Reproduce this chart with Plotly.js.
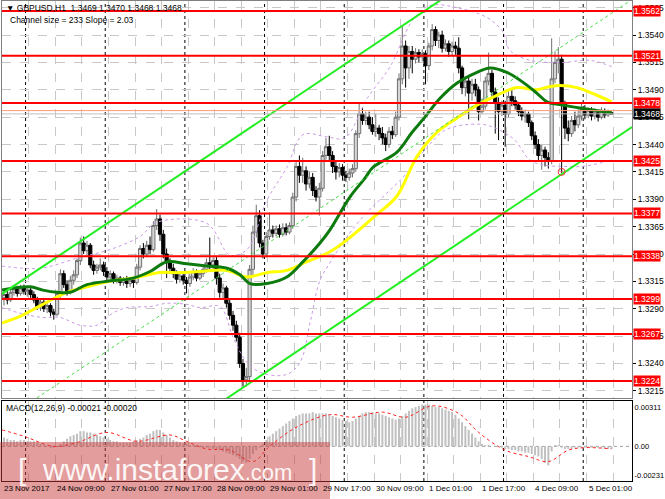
<!DOCTYPE html>
<html>
<head>
<meta charset="utf-8">
<script src="https://cdn.plot.ly/plotly-3.0.1.min.js"></script>
<style>html,body{margin:0;padding:0;background:#fff}#chart{width:665px;height:499px}</style>
</head>
<body>
<div id="chart"></div>
<script>
// GBPUSD H1, one bar per hour: bar 0 = 23 Nov 2017 17:00 ... bar 183 = 5 Dec 2017 08:00
var open = [
  1.3300,1.3303,1.3298,1.3305,1.3308,1.3304,1.3309,1.3306,1.3307,1.3303,
  1.3298,1.3292,1.3296,1.3290,1.3293,1.3287,1.3285,1.3304,1.3322,1.3312,
  1.3305,1.3316,1.3321,1.3334,1.3350,1.3343,1.3348,1.3330,1.3325,1.3328,
  1.3330,1.3324,1.3319,1.3322,1.3316,1.3318,1.3314,1.3317,1.3313,1.3316,
  1.3314,1.3328,1.3345,1.3340,1.3348,1.3344,1.3366,1.3372,1.3358,1.3340,
  1.3332,1.3327,1.3322,1.3317,1.3320,1.3316,1.3313,1.3319,1.3324,1.3318,
  1.3322,1.3326,1.3332,1.3330,1.3334,1.3318,1.3305,1.3309,1.3295,1.3284,
  1.3275,1.3264,1.3240,1.3225,1.3228,1.3326,1.3360,1.3375,1.3350,1.3340,
  1.3356,1.3362,1.3359,1.3363,1.3358,1.3364,1.3360,1.3366,1.3392,1.3420,
  1.3412,1.3416,1.3404,1.3410,1.3398,1.3392,1.3400,1.3430,1.3438,1.3430,
  1.3420,1.3415,1.3419,1.3412,1.3410,1.3414,1.3418,1.3450,1.3468,1.3462,
  1.3465,1.3458,1.3452,1.3455,1.3450,1.3446,1.3440,1.3452,1.3449,1.3465,
  1.3500,1.3530,1.3510,1.3525,1.3518,1.3524,1.3520,1.3523,1.3512,1.3530,
  1.3545,1.3535,1.3540,1.3528,1.3532,1.3525,1.3530,1.3528,1.3510,1.3492,
  1.3498,1.3487,1.3495,1.3490,1.3470,1.3475,1.3498,1.3505,1.3488,1.3478,
  1.3470,1.3476,1.3468,1.3484,1.3480,1.3476,1.3470,1.3466,1.3468,1.3460,
  1.3448,1.3440,1.3430,1.3435,1.3428,1.3425,1.3500,1.3515,1.3518,1.3478,
  1.3455,1.3450,1.3462,1.3458,1.3466,1.3472,1.3467,1.3471,1.3466,1.3469,
  1.3465,1.3470,1.3467,1.3469
]
var high = [
  1.3306,1.3307,1.3309,1.3311,1.3311,1.3312,1.3312,1.3310,1.3310,1.3306,
  1.3301,1.3299,1.3298,1.3296,1.3295,1.3290,1.3306,1.3326,1.3325,1.3316,
  1.3320,1.3325,1.3336,1.3355,1.3356,1.3352,1.3350,1.3334,1.3331,1.3336,
  1.3333,1.3328,1.3325,1.3324,1.3321,1.3320,1.3319,1.3320,1.3318,1.3319,
  1.3331,1.3348,1.3350,1.3352,1.3356,1.3370,1.3381,1.3376,1.3362,1.3345,
  1.3336,1.3331,1.3325,1.3323,1.3322,1.3319,1.3322,1.3327,1.3326,1.3325,
  1.3329,1.3336,1.3355,1.3337,1.3338,1.3322,1.3313,1.3311,1.3298,1.3288,
  1.3279,1.3268,1.3244,1.3236,1.3330,1.3366,1.3385,1.3380,1.3353,1.3360,
  1.3378,1.3366,1.3366,1.3367,1.3368,1.3368,1.3369,1.3396,1.3425,1.3430,
  1.3428,1.3420,1.3415,1.3414,1.3402,1.3405,1.3434,1.3446,1.3448,1.3434,
  1.3424,1.3423,1.3422,1.3416,1.3418,1.3422,1.3453,1.3477,1.3474,1.3470,
  1.3470,1.3465,1.3468,1.3458,1.3456,1.3450,1.3456,1.3457,1.3470,1.3505,
  1.3548,1.3535,1.3530,1.3530,1.3528,1.3527,1.3527,1.3526,1.3533,1.3550,
  1.3548,1.3543,1.3544,1.3536,1.3535,1.3534,1.3534,1.3538,1.3512,1.3502,
  1.3503,1.3500,1.3500,1.3493,1.3482,1.3502,1.3524,1.3508,1.3492,1.3483,
  1.3480,1.3480,1.3489,1.3490,1.3484,1.3479,1.3474,1.3472,1.3470,1.3462,
  1.3452,1.3445,1.3440,1.3438,1.3433,1.3537,1.3525,1.3529,1.3522,1.3480,
  1.3462,1.3466,1.3470,1.3472,1.3477,1.3476,1.3474,1.3474,1.3473,1.3471,
  1.3474,1.3473,1.3472,1.3470
]
var low = [
  1.3293,1.3294,1.3296,1.3302,1.3301,1.3302,1.3303,1.3301,1.3300,1.3295,
  1.3289,1.3288,1.3287,1.3286,1.3283,1.3280,1.3283,1.3300,1.3309,1.3302,
  1.3303,1.3312,1.3318,1.3330,1.3340,1.3338,1.3327,1.3321,1.3322,1.3325,
  1.3320,1.3316,1.3315,1.3313,1.3313,1.3311,1.3311,1.3309,1.3310,1.3309,
  1.3312,1.3325,1.3336,1.3337,1.3340,1.3342,1.3362,1.3352,1.3336,1.3318,
  1.3322,1.3318,1.3313,1.3314,1.3312,1.3304,1.3310,1.3316,1.3315,1.3316,
  1.3319,1.3323,1.3326,1.3326,1.3312,1.3300,1.3298,1.3291,1.3280,1.3270,
  1.3260,1.3236,1.3219,1.3219,1.3224,1.3320,1.3355,1.3346,1.3336,1.3337,
  1.3353,1.3355,1.3356,1.3355,1.3356,1.3357,1.3358,1.3363,1.3388,1.3405,
  1.3405,1.3398,1.3400,1.3393,1.3388,1.3375,1.3397,1.3426,1.3425,1.3414,
  1.3408,1.3410,1.3407,1.3406,1.3407,1.3410,1.3415,1.3446,1.3458,1.3458,
  1.3454,1.3449,1.3447,1.3444,1.3440,1.3434,1.3437,1.3445,1.3447,1.3462,
  1.3495,1.3492,1.3500,1.3505,1.3514,1.3515,1.3516,1.3495,1.3508,1.3526,
  1.3530,1.3528,1.3524,1.3525,1.3520,1.3521,1.3522,1.3505,1.3486,1.3484,
  1.3463,1.3480,1.3484,1.3462,1.3468,1.3472,1.3494,1.3483,1.3450,1.3444,
  1.3466,1.3438,1.3465,1.3475,1.3472,1.3466,1.3462,1.3460,1.3456,1.3444,
  1.3436,1.3425,1.3417,1.3420,1.3418,1.3422,1.3496,1.3505,1.3414,1.3445,
  1.3443,1.3447,1.3452,1.3455,1.3462,1.3463,1.3464,1.3462,1.3463,1.3461,
  1.3463,1.3464,1.3465,1.3468
]
var close = [
  1.3303,1.3298,1.3305,1.3308,1.3304,1.3309,1.3306,1.3307,1.3303,1.3298,
  1.3292,1.3296,1.3290,1.3293,1.3287,1.3285,1.3304,1.3322,1.3312,1.3305,
  1.3316,1.3321,1.3334,1.3350,1.3343,1.3348,1.3330,1.3325,1.3328,1.3330,
  1.3324,1.3319,1.3322,1.3316,1.3318,1.3314,1.3317,1.3313,1.3316,1.3314,
  1.3328,1.3345,1.3340,1.3348,1.3344,1.3366,1.3372,1.3358,1.3340,1.3332,
  1.3327,1.3322,1.3317,1.3320,1.3316,1.3313,1.3319,1.3324,1.3318,1.3322,
  1.3326,1.3332,1.3330,1.3334,1.3318,1.3305,1.3309,1.3295,1.3284,1.3275,
  1.3264,1.3240,1.3225,1.3228,1.3326,1.3360,1.3375,1.3350,1.3340,1.3356,
  1.3362,1.3359,1.3363,1.3358,1.3364,1.3360,1.3366,1.3392,1.3420,1.3412,
  1.3416,1.3404,1.3410,1.3398,1.3392,1.3400,1.3430,1.3438,1.3430,1.3420,
  1.3415,1.3419,1.3412,1.3410,1.3414,1.3418,1.3450,1.3468,1.3462,1.3465,
  1.3458,1.3452,1.3455,1.3450,1.3446,1.3440,1.3452,1.3449,1.3465,1.3500,
  1.3530,1.3510,1.3525,1.3518,1.3524,1.3520,1.3523,1.3512,1.3530,1.3545,
  1.3535,1.3540,1.3528,1.3532,1.3525,1.3530,1.3528,1.3510,1.3492,1.3498,
  1.3487,1.3495,1.3490,1.3470,1.3475,1.3498,1.3505,1.3488,1.3478,1.3470,
  1.3476,1.3468,1.3484,1.3480,1.3476,1.3470,1.3466,1.3468,1.3460,1.3448,
  1.3440,1.3430,1.3435,1.3428,1.3425,1.3500,1.3515,1.3518,1.3478,1.3455,
  1.3450,1.3462,1.3458,1.3466,1.3472,1.3467,1.3471,1.3466,1.3469,1.3465,
  1.3470,1.3467,1.3469,1.3468
]

// moving averages and bands (bar, price)
var greenMaBar = [-0.6, 7.8, 11.7, 16, 19.9, 25, 31, 38.9, 44, 49.1, 55.1, 61.1, 67.2, 71.1, 74.1, 79.2, 85.2, 90.1, 95.2, 98.2, 104.2, 108.7, 111.1, 118.4, 122.9, 126.8, 131.3, 136.4, 142.5, 146.4, 151.5, 156.3, 160.5, 163.6, 168.4, 174.4, 183.1]
var greenMaPrice = [1.3307, 1.3310, 1.3307, 1.3305, 1.3305, 1.3312, 1.3315, 1.3318, 1.3324, 1.3333, 1.3331, 1.3329, 1.3327, 1.3321, 1.3313, 1.3313, 1.3319, 1.3333, 1.3350, 1.3362, 1.3392, 1.3409, 1.3419, 1.3433, 1.3451, 1.3465, 1.3482, 1.3496, 1.3506, 1.3510, 1.3506, 1.3497, 1.3487, 1.3479, 1.3476, 1.3473, 1.3469]
var yellowMaBar = [-0.6, 4.8, 11.7, 19, 25, 31.9, 38.9, 47, 53, 59, 67.2, 73.2, 79.2, 85.2, 91.3, 98.2, 104.2, 112.3, 118.4, 124.4, 130.4, 136.4, 142.5, 148.5, 154.5, 160.5, 164.5, 167.5, 172.6, 178.6, 183.1]
var yellowMaPrice = [1.3277, 1.3283, 1.3294, 1.3305, 1.3310, 1.3315, 1.3318, 1.3323, 1.3323, 1.3324, 1.3325, 1.3319, 1.3323, 1.3325, 1.3333, 1.3342, 1.3355, 1.3376, 1.3393, 1.3429, 1.3451, 1.3464, 1.3476, 1.3485, 1.3492, 1.3490, 1.3493, 1.3494, 1.3492, 1.3485, 1.3479]
var bandUpBar = [-0.6, 10.8, 22.9, 31.9, 41, 46.1, 61.1, 68.1, 73.2, 79.2, 85.2, 90.1, 97.3, 102.7, 109.6, 116.3, 123.2, 128.3, 136.4, 145.5, 150.3, 152.4, 158.4, 168.4, 176.5, 183.1]
var bandUpPrice = [1.3329, 1.3327, 1.3337, 1.3344, 1.3356, 1.3369, 1.3368, 1.3339, 1.3344, 1.3389, 1.3419, 1.3449, 1.3447, 1.3446, 1.3483, 1.3511, 1.3554, 1.3567, 1.3565, 1.3556, 1.3543, 1.3526, 1.3517, 1.3515, 1.3517, 1.3511]
var bandLowBar = [-0.6, 4.8, 11.7, 16.9, 22.9, 28, 32.8, 37, 44, 49.1, 55.1, 59, 65.1, 69, 73.2, 78, 85.2, 89.2, 92.2, 95.2, 98.2, 102.7, 108.7, 114.8, 120.8, 126.8, 132.8, 138.9, 144.9, 149.4, 153.9, 158.4, 163, 168.4, 174.4, 179.5, 183.1]
var bandLowPrice = [1.3291, 1.3286, 1.3282, 1.3282, 1.3275, 1.3275, 1.3286, 1.3291, 1.3292, 1.3295, 1.3294, 1.3291, 1.3292, 1.3264, 1.3241, 1.3231, 1.3230, 1.3241, 1.3277, 1.3316, 1.3332, 1.3353, 1.3376, 1.3394, 1.3412, 1.3435, 1.3453, 1.3458, 1.3458, 1.3453, 1.3444, 1.3426, 1.3421, 1.3420, 1.3420, 1.3423, 1.3426]

// MACD(12,26,9) histogram per bar and the signal line
var macdHist = [
  0.0007,0.0006,0.0005,0.0005,0.0004,0.0005,0.0005,0.0004,0.0004,0.0004,0.0003,0.0002,
  0.0001,0.0000,-0.0001,-0.0001,0.0000,0.0002,
  0.0004,0.0006,0.0008,0.0009,0.0010,0.0012,0.0012,
  0.0011,0.0011,0.0010,0.0009,0.0008,
  0.0007,0.0006,0.0005,0.0004,0.0004,0.0003,0.0003,0.0003,
  0.0003,0.0004,0.0005,0.0006,
  0.0007,0.0009,0.0010,0.0012,0.0013,0.0013,
  0.0011,0.0009,0.0007,0.0005,0.0004,
  0.0003,0.0002,0.0002,0.0001,0.0001,0.0001,0.0000,
  -0.0001,-0.0001,-0.0001,-0.0002,-0.0002,-0.0003,-0.0004,
  -0.0005,-0.0006,-0.0007,-0.0008,-0.0010,-0.0012,-0.0013,-0.0010,-0.0006,
  -0.0003,-0.0001,0.0002,
  0.0005,0.0008,0.0010,0.0012,0.0014,0.0016,0.0018,0.0020,0.0022,0.0024,
  0.0025,0.0026,0.0026,0.0026,0.0027,0.0026,0.0026,0.0026,0.0026,0.0025,
  0.0024,0.0023,0.0022,0.0021,0.0020,0.0019,0.0020,
  0.0022,0.0024,0.0026,0.0027,0.0027,0.0027,0.0026,0.0026,0.0025,
  0.0024,0.0023,0.0022,0.0021,0.0022,0.0024,
  0.0026,0.0028,0.0030,0.0031,0.0032,0.0033,0.0033,0.0033,
  0.0032,0.0031,0.0031,0.0030,0.0029,0.0028,
  0.0027,0.0025,0.0022,0.0019,0.0016,0.0013,0.0010,0.0007,
  0.0004,0.0002,0.0001,0.0001,0.0000,0.0000,0.0000,
  -0.0001,-0.0002,-0.0002,-0.0003,-0.0003,-0.0004,-0.0004,-0.0005,-0.0005,
  -0.0006,-0.0007,-0.0008,-0.0010,-0.0013,-0.0015,
  -0.0004,0.0001,0.0001,
  -0.0001,-0.0002,-0.0002,-0.0002,-0.0001,-0.0001,-0.0001,-0.0001,-0.0001,-0.0001,-0.0001,-0.0001,-0.0001,-0.0002,-0.0002,-0.0002
]
var signalBar = [-0.6, 6, 15, 22, 31, 40, 50, 55, 61, 68, 75, 80, 88, 98, 105, 114, 121, 129, 137, 143, 151, 158, 164, 170, 175, 183]
var signalVal = [0.0013, 0.0008, 0.0000, 0.0003, 0.0011, 0.0004, 0.0009, 0.0004, -0.0002, -0.0003, -0.0012, 0.0000, 0.0015, 0.0025, 0.0023, 0.0027, 0.0023, 0.0032, 0.0026, 0.0011, -0.0003, -0.0008, -0.0012, -0.0003, -0.0001, -0.0002]
var macdTicks = [0.00311, 0, -0.00231]
var macdTickText = ['0.00311', '0.00', '-0.00231']

// support / resistance levels and current prices
var levels = [1.3562, 1.3521, 1.3478, 1.3425, 1.3377, 1.3338, 1.3299, 1.3267, 1.3224]
var bidPrice = 1.3468
var askPrice = 1.3471

// regression channel: lower line through the 28 Nov low, 233 points wide
var channelBar = 72
var channelPrice = 1.3218
var channelSlope = 0.000203
var channelSize = 0.0233

var fractalBar = 168
var fractalPrice = 1.3415

// time axis
var labelBars = [0, 16, 32, 48, 64, 80, 96, 112, 128, 144, 160, 176]
var timeLabels = ['23 Nov 2017', '24 Nov 09:00', '27 Nov 01:00', '27 Nov 17:00', '28 Nov 09:00', '29 Nov 01:00',
  '29 Nov 17:00', '30 Nov 09:00', '1 Dec 01:00', '1 Dec 17:00', '4 Dec 09:00', '5 Dec 01:00']
var dayStarts = [7, 31, 55, 79, 103, 127, 151, 175]

var xRange = [-0.6, 189.2]
var font = 'Liberation Sans, Arial, sans-serif'

var bars = close.map(function (c, i) { return i })

// grid every 8 bars
var gridVals = []
for (var g = 0; g < xRange[1]; g += 8) gridVals.push(g - 0.5)

function chanLine(offset) {
  return {
    x: xRange,
    y: xRange.map(function (b) { return channelPrice + offset + channelSlope * (b - channelBar) }),
    xaxis: 'x', yaxis: 'y', type: 'scatter', mode: 'lines', hoverinfo: 'skip',
    line: offset == channelSize / 2 ? {color: '#44dd44', width: 1, dash: 'dot'} : {color: '#22ee22', width: 2}
  }
}

var candles = {
  type: 'candlestick', x: bars, open: open, high: high, low: low, close: close,
  xaxis: 'x', yaxis: 'y', whiskerwidth: 0, hoverinfo: 'skip',
  increasing: {line: {color: '#707070', width: 1}, fillcolor: '#d6d6d6'},
  decreasing: {line: {color: '#000000', width: 1}, fillcolor: '#000000'}
}
var bandStyle = {color: '#cc99e6', width: 1, dash: 'dot'}
var traces = [
  candles,
  {x: bandUpBar, y: bandUpPrice, type: 'scatter', mode: 'lines', line: Object.assign({shape: 'spline'}, bandStyle), hoverinfo: 'skip'},
  {x: bandLowBar, y: bandLowPrice, type: 'scatter', mode: 'lines', line: Object.assign({shape: 'spline'}, bandStyle), hoverinfo: 'skip'},
  {x: yellowMaBar, y: yellowMaPrice, type: 'scatter', mode: 'lines', line: {color: '#ffff00', width: 3, shape: 'spline'}, hoverinfo: 'skip'},
  {x: greenMaBar, y: greenMaPrice, type: 'scatter', mode: 'lines', line: {color: '#0d7a0d', width: 3, shape: 'spline'}, hoverinfo: 'skip'},
  chanLine(0), chanLine(channelSize), chanLine(channelSize / 2),
  {x: [fractalBar], y: [fractalPrice], type: 'scatter', mode: 'markers', hoverinfo: 'skip',
    marker: {symbol: 'circle-open-dot', size: 7, color: '#ff3030', line: {width: 1}}},
  {x: bars, y: macdHist, type: 'bar', xaxis: 'x2', yaxis: 'y2', width: 0.6, hoverinfo: 'skip',
    marker: {color: '#c0c0c0', line: {width: 0}}},
  {x: signalBar, y: signalVal, type: 'scatter', mode: 'lines', xaxis: 'x2', yaxis: 'y2', hoverinfo: 'skip',
    line: {color: '#ff2020', width: 1, dash: 'dot', shape: 'spline'}}
]

var shapes = []
var annotations = []
levels.forEach(function (lv) {
  shapes.push({type: 'line', xref: 'paper', x0: 0, x1: 1, yref: 'y', y0: lv, y1: lv, line: {color: '#ff0000', width: 2}})
  annotations.push({xref: 'paper', x: 1, xanchor: 'left', xshift: 1, yref: 'y', y: lv, text: lv.toFixed(4),
    showarrow: false, bgcolor: '#ff0000', borderpad: 0, font: {family: font, size: 8.5, color: '#ffffff'}})
})
shapes.push({type: 'line', xref: 'paper', x0: 0, x1: 1, yref: 'y', y0: askPrice, y1: askPrice, line: {color: '#ff9a7a', width: 1}})
shapes.push({type: 'line', xref: 'paper', x0: 0, x1: 1, yref: 'y', y0: bidPrice, y1: bidPrice, line: {color: '#c0c0c0', width: 1}})
annotations.push({xref: 'paper', x: 1, xanchor: 'left', xshift: 1, yref: 'y', y: bidPrice, text: bidPrice.toFixed(4),
  showarrow: false, bgcolor: '#000000', borderpad: 0, font: {family: font, size: 8.5, color: '#ffffff'}})
dayStarts.forEach(function (d) {
  shapes.push({type: 'line', layer: 'below', xref: 'x', x0: d - 0.5, x1: d - 0.5, yref: 'paper', y0: 0, y1: 1,
    line: {color: '#000000', width: 1, dash: 'dot'}})
})
shapes.push({type: 'line', layer: 'below', xref: 'paper', x0: 0, x1: 1, yref: 'y2', y0: 0, y1: 0,
  line: {color: '#a0a0a0', width: 1, dash: 'dot'}})

// time labels under the MACD panel, left-aligned on their bar
labelBars.forEach(function (b, i) {
  annotations.push({xref: 'x2', x: b - 0.5, xanchor: 'left', yref: 'paper', y: 0, yanchor: 'top', yshift: -1,
    showarrow: false, text: timeLabels[i], font: {family: font, size: 8, color: '#000'}})
})

// watermark band
shapes.push({type: 'rect', xref: 'paper', yref: 'paper', x0: -0.004, x1: 0.5206, y0: -0.04, y1: 0.081,
  fillcolor: 'rgba(200,60,60,0.5)', line: {width: 0}})

annotations.push(
  {xref: 'paper', yref: 'paper', x: 0.003, y: 0.985, xanchor: 'left', yanchor: 'middle', showarrow: false,
    text: '\u25BC GBPUSD,H1  1.3469 1.3470 1.3468 1.3468', font: {family: font, size: 8.5, color: '#000'}},
  {xref: 'paper', yref: 'paper', x: 0.009, y: 0.96, xanchor: 'left', yanchor: 'middle', showarrow: false,
    text: 'Channel size = 233 Slope = 2.03', font: {family: font, size: 8.5, color: '#000'}},
  {xref: 'paper', yref: 'paper', x: 0.003, y: 0.152, xanchor: 'left', yanchor: 'middle', showarrow: false,
    text: 'MACD(12,26,9) -0.00021 -0.00020', font: {family: font, size: 8.5, color: '#000'}},
  {xref: 'paper', yref: 'paper', x: 0.262, y: 0.023, xanchor: 'center', yanchor: 'middle', showarrow: false,
    text: '[ &nbsp;www.instaforex<span style="font-size:22px">.com</span>&nbsp; ]',
    font: {family: font, size: 30, color: 'rgba(255,255,255,0.92)'}}
)

var gridColor = '#c8c8c8'
var layout = {
  width: 665, height: 499,
  margin: {l: 2, r: 33, t: 1, b: 18, pad: 0},
  paper_bgcolor: '#ffffff', plot_bgcolor: '#ffffff',
  showlegend: false, hovermode: false,
  boxgap: 0.05, boxgroupgap: 0,
  font: {family: font, size: 8.5, color: '#000'},
  xaxis: {domain: [0, 1], anchor: 'y', range: xRange, rangeslider: {visible: false},
    tickmode: 'array', tickvals: gridVals, showticklabels: false, ticks: '',
    showgrid: true, gridcolor: gridColor, griddash: 'dash', zeroline: false,
    showline: true, mirror: true, linecolor: '#808080', linewidth: 1},
  xaxis2: {domain: [0, 1], anchor: 'y2', range: xRange,
    tickmode: 'array', tickvals: gridVals, showticklabels: false, ticks: '',
    showgrid: true, gridcolor: gridColor, griddash: 'dash', zeroline: false,
    showline: true, mirror: true, linecolor: '#000000', linewidth: 1},
  yaxis: {domain: [0.173, 1], anchor: 'x', side: 'right', range: [1.32085, 1.35711],
    tick0: 1.3215, dtick: 0.0025, tickformat: '.4f', ticks: 'outside', ticklen: 3, tickcolor: '#000',
    tickfont: {family: font, size: 8.5, color: '#000'},
    showgrid: true, gridcolor: gridColor, griddash: 'dash', zeroline: false,
    showline: true, mirror: true, linecolor: '#808080', linewidth: 1},
  yaxis2: {domain: [0, 0.1667], anchor: 'x2', side: 'right', range: [-0.00273, 0.00358],
    tickmode: 'array', tickvals: macdTicks, ticktext: macdTickText, ticks: '',
    tickfont: {family: font, size: 7.5, color: '#000'},
    showgrid: false, zeroline: false,
    showline: true, mirror: true, linecolor: '#000000', linewidth: 1},
  shapes: shapes,
  annotations: annotations
}

Plotly.newPlot('chart', traces, layout, {staticPlot: true, displayModeBar: false})
</script>
</body>
</html>
